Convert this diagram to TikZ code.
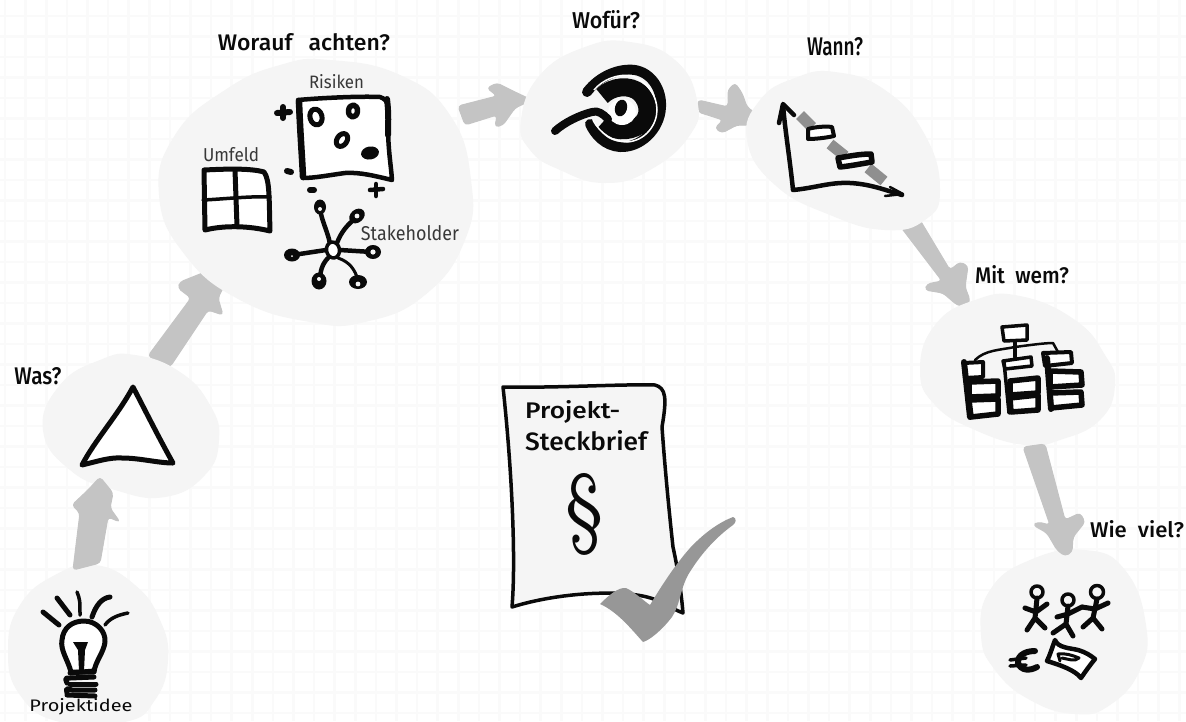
\documentclass[tikz,border=0pt]{standalone}
\usepackage{fontspec}
\setmainfont{Fira Sans}
\definecolor{blobc}{HTML}{F5F5F5}
\definecolor{arrowc}{HTML}{C4C4C4}
\definecolor{checkc}{HTML}{979797}
\definecolor{dashc}{HTML}{8F8F8F}
\definecolor{gridc}{HTML}{FAFAFA}
\definecolor{inkc}{HTML}{0A0A0A}
\newcommand{\headlab}[3]{\resizebox{#1pt}{#2pt}{\fontspec{Fira Sans Medium}#3}}
\newcommand{\thinlab}[3]{\resizebox{#1pt}{#2pt}{#3}}
\tikzset{
  blob/.style={fill=blobc,draw=none},
  grayarrow/.style={fill=arrowc,draw=arrowc,line width=1pt,line join=round,rounded corners=3.5pt},
  ink/.style={draw=inkc,line width=4.5pt,line cap=round,line join=round},
  inkw/.style={ink,fill=white},
  orgbox/.style={inkw,line width=5.5pt},
  txt/.style={inner sep=0pt,text=inkc,anchor=center},
  thintxt/.style={inner sep=0pt,text=black!78,anchor=center},
}
\begin{document}
\begin{tikzpicture}[x=1pt,y=-1pt]
\useasboundingbox (0,0) rectangle (1186,721);
\fill[white] (0,0) rectangle (1186,721);
\foreach \i in {0,...,57} \draw[gridc,line width=2.6pt] ({5+20.6*\i},0) -- ({5+20.6*\i},721);
\foreach \i in {0,...,35} \draw[gridc,line width=2.6pt] (0,{16+20.5*\i}) -- (1186,{16+20.5*\i});

% arrows (below blobs where they touch)
\path[grayarrow] (148,356) -- (191,298) -- (178,288) -- (180,282) -- (205,272) -- (222,269) -- (227,280) -- (218,298) -- (223,315) -- (208,310) -- (170,367) -- cycle;
\path[grayarrow] (458,106) -- (497,96) -- (487,88) -- (497,83) -- (515,92) -- (532,100) -- (515,108) -- (503,125) -- (495,127) -- (497,115) -- (465,125) -- cycle;
\path[grayarrow] (897,222) -- (917,215) -- (950,270) -- (960,262) -- (968,266) -- (965,287) -- (970,300) -- (967,307) -- (957,305) -- (943,293) -- (925,290) -- (927,284) -- (942,281) -- cycle;
\path[grayarrow] (698,100) -- (728,107) -- (728,90) -- (735,83) -- (742,93) -- (747,107) -- (762,118) -- (760,125) -- (737,125) -- (722,133) -- (715,128) -- (723,120) -- (698,112) -- cycle;

% blobs
\path[blob] plot[smooth cycle,tension=0.8] coordinates {(43,430)(60,385)(100,360)(135,355)(180,372)(210,405)(219,440)(205,475)(165,497)(115,490)(70,470)};
\path[blob] plot[smooth cycle,tension=0.8] coordinates {(8,650)(20,605)(55,575)(95,565)(135,585)(160,620)(168,660)(155,700)(125,722)(60,722)(20,695)};
\path[blob] plot[smooth cycle,tension=0.8] coordinates {(159,195)(175,135)(225,90)(280,65)(330,60)(400,75)(450,115)(471,180)(465,240)(425,295)(365,322)(310,322)(240,300)(185,255)};
\path[blob] plot[smooth cycle,tension=0.8] coordinates {(521,120)(540,75)(585,47)(630,42)(675,60)(697,100)(690,135)(650,170)(605,183)(560,170)(530,150)};
\path[blob] plot[smooth cycle,tension=0.8] coordinates {(747,140)(760,100)(795,78)(835,72)(885,90)(925,135)(940,190)(925,220)(885,230)(830,215)(775,185)};
\path[blob] plot[smooth cycle,tension=0.8] coordinates {(920,370)(935,325)(975,300)(1020,296)(1075,320)(1105,355)(1115,385)(1100,420)(1060,440)(1025,445)(975,430)(935,405)};
\path[blob] plot[smooth cycle,tension=0.8] coordinates {(981,635)(990,590)(1030,560)(1085,550)(1125,570)(1146,625)(1140,670)(1110,705)(1075,714)(1030,700)(995,670)};

% arrows on top of blobs
\path[grayarrow] (73,570) -- (77,537) -- (80,513) -- (72,505) -- (88,490) -- (100,477) -- (113,493) -- (110,508) -- (120,522) -- (108,517) -- (100,563) -- cycle;
\path[grayarrow] (1023,447) -- (1045,444) -- (1065,520) -- (1080,513) -- (1085,522) -- (1073,537) -- (1072,552) -- (1065,556) -- (1057,550) -- (1047,533) -- (1033,525) -- (1038,522) -- (1050,525) -- cycle;

% Was: triangle
\path[inkw,line width=5pt] (133,387) .. controls (118,415) and (95,440) .. (82,465) .. controls (95,462) and (110,457) .. (122,458) .. controls (140,458) and (158,463) .. (173,463) .. controls (160,440) and (145,410) .. cycle;

% Bulb
\draw[ink,line width=5pt] (43,612) -- (59,625);
\draw[ink,line width=5pt] (57,598) -- (70,615);
\draw[ink,line width=3.5pt] (77,592) .. controls (80,600) .. (80,615);
\draw[ink,line width=5pt] (92,617) .. controls (96,605) and (102,598) .. (110,597);
\draw[ink,line width=3.5pt] (105,625) .. controls (110,618) and (118,615) .. (128,613);
\path[inkw,line width=5pt] (71,672) .. controls (68,660) and (60,650) .. (62,640) .. controls (63,628) and (72,621) .. (84,621) .. controls (97,621) and (106,632) .. (105,642) .. controls (104,652) and (95,662) .. (94,672) -- cycle;
\fill[inkc] (73,642) -- (88,642) -- (85,650) -- (84,671) -- (79,671) -- (78,650) -- cycle;
\draw[ink,line width=5pt] (70,673) -- (94,671);
\draw[ink,line width=5pt] (67,683) .. controls (65,678) .. (70,678) -- (94,677);
\draw[ink,line width=5pt] (70,684) -- (96,684);
\draw[ink,line width=5pt] (67,693) .. controls (66,688) .. (72,690) -- (95,690);
\draw[ink,line width=5pt] (67,695) -- (95,696);

% Umfeld
\path[inkw,line width=5pt] (204,170) .. controls (225,169) and (250,168) .. (264,172) .. controls (270,180) and (269,200) .. (270,231) .. controls (250,226) and (225,225) .. (205,230) -- cycle;
\draw[ink,line width=5pt] (235,170) -- (237,226);
\draw[ink,line width=3.5pt] (203,200) .. controls (225,199) and (250,196) .. (270,197);

% Risiken
\path[inkw,line width=4.5pt] (298,100) .. controls (320,98) and (360,96) .. (380,97) .. controls (390,100) and (389,110) .. (388,125) .. controls (388,150) and (391,165) .. (392,180) .. controls (375,176) and (360,172) .. (345,173) .. controls (330,175) and (315,178) .. (303,178) -- cycle;
\draw[ink,line width=6.5pt] (299,101) .. controls (300,130) and (302,155) .. (303,177);
\draw[ink,line width=6pt] (387,99) .. controls (389,115) and (388,125) .. (388,135);
\draw[ink,line width=6pt] (283,107) -- (283,118);
\draw[ink,line width=6pt] (277,113) -- (290,112);
\draw[ink,line width=6pt] (287,171) -- (291,172);
\draw[ink,line width=6pt] (310,190) -- (314,190);
\draw[ink,line width=4.5pt] (376,184) -- (376,196);
\draw[ink,line width=4.5pt] (370,190) -- (383,189);
\draw[ink,line width=5pt,rotate around={15:(316,117)}] (316,117) ellipse (6pt and 8pt);
\draw[ink,line width=5.5pt,rotate around={-5:(353,111)}] (353,111) ellipse (4.5pt and 6pt);
\draw[ink,line width=5pt,rotate around={-35:(342,140)}] (342,140) ellipse (5pt and 7pt);
\fill[inkc,rotate around={10:(370,153)}] (370,153) ellipse (9pt and 6.5pt);

% Stakeholder
\draw[ink] (330,244) .. controls (328,232) and (322,222) .. (320,209);
\draw[ink] (337,243) .. controls (341,232) and (348,224) .. (356,218);
\draw[ink] (340,250) -- (372,252);
\draw[ink,line width=3pt] (338,258) .. controls (350,262) and (355,270) .. (358,280);
\draw[ink] (328,258) .. controls (322,264) and (320,272) .. (320,280);
\draw[ink] (326,250) -- (293,255);
\path[inkw,line width=3.5pt,rotate around={10:(333,250)}] (333,250) ellipse (6.5pt and 8pt);
\fill[inkc] (320,207) ellipse (6pt and 7.5pt);
\fill[blobc] (320,209) circle (2pt);
\fill[inkc,rotate around={40:(357,216)}] (357,216) ellipse (8.5pt and 6.5pt);
\fill[blobc] (357,216) circle (2.4pt);
\fill[inkc] (373,252) ellipse (8pt and 7pt);
\fill[blobc] (373,252) circle (2.6pt);
\fill[inkc] (358,282) ellipse (9pt and 7pt);
\fill[blobc] (358,284) circle (2.4pt);
\fill[inkc] (319,281) ellipse (7.5pt and 8.5pt);
\fill[blobc] (319,279) circle (2pt);
\fill[inkc] (292,255) ellipse (8pt and 6.5pt);
\fill[blobc] (292,256) circle (1pt);

% Target
\draw[ink,line width=10pt] (587,92) .. controls (600,75) and (620,68) .. (635,70) .. controls (652,73) and (662,90) .. (661,107) .. controls (660,130) and (640,148) .. (620,147) .. controls (605,146) and (595,135) .. (590,124);
\draw[ink,line width=18pt,line cap=butt] (602,96) .. controls (612,86) and (630,84) .. (640,93) .. controls (650,103) and (650,118) .. (640,125) .. controls (628,133) and (612,132) .. (603,122);
\draw[white,line width=1.5pt] (593,120) .. controls (600,134) and (614,142) .. (627,142) .. controls (645,141) and (657,125) .. (657,110) .. controls (657,96) and (648,82) .. (632,76) .. controls (618,73) and (602,80) .. (594,90);
\fill[white] (622,112) ellipse (14pt and 13pt);
\fill[inkc,rotate around={-15:(621,108)}] (621,108) ellipse (6pt and 8.5pt);
\draw[ink,line width=8pt] (555,131) .. controls (565,122) and (580,115) .. (592,112) .. controls (598,110) and (603,114) .. (608,119);

% Gantt
\draw[dashc,line width=11pt] (800,115) -- (812,127);
\draw[dashc,line width=11pt] (830,144) -- (845,156);
\draw[dashc,line width=11pt] (868,168) -- (884,181);
\draw[ink] (783,105) .. controls (785,130) and (790,160) .. (793,190) .. controls (815,188) and (830,182) .. (850,183) .. controls (870,184) and (885,190) .. (902,195);
\draw[ink] (779,123) -- (783,104) -- (794,115);
\draw[ink,line width=2.5pt] (885,196) -- (903,194) -- (890,187);
\path[inkw,line width=4pt] (808,129) .. controls (815,127) and (825,126) .. (832,127) -- (834,136) .. controls (825,138) and (815,139) .. (808,139) -- cycle;
\path[inkw,line width=5.5pt] (838,158) .. controls (850,156) and (860,154) .. (871,154) -- (872,162) .. controls (860,164) and (850,166) .. (840,167) -- cycle;

% Org chart
\draw[ink,line width=2.5pt] (975,360) .. controls (985,350) and (1000,350) .. (1015,347) .. controls (1030,345) and (1045,343) .. (1053,343) -- (1058,352);
\draw[ink] (1015,340) -- (1015,357);
\path[inkw,line width=3.5pt] (1002,327) -- (1027,325) -- (1027,340) -- (1004,341) -- cycle;
\path[orgbox,line width=4pt] (964,363) -- (983,362) -- (983,377) -- (965,378) -- cycle;
\path[orgbox] (969,382) -- (998,381) -- (998,396) -- (969,397) -- cycle;
\path[orgbox] (969,400) -- (998,399) -- (998,414) -- (971,417) -- cycle;
\draw[ink,line width=6pt] (964,362) -- (970,417);
\path[orgbox,line width=3.5pt] (1003,361) -- (1031,357) -- (1032,366) -- (1005,369) -- cycle;
\path[orgbox] (1010,381) -- (1038,378) -- (1038,393) -- (1010,395) -- cycle;
\path[orgbox] (1010,398) -- (1038,395) -- (1038,410) -- (1011,412) -- cycle;
\draw[ink,line width=3.5pt] (1004,362) -- (1009,413);
\path[orgbox,line width=4pt] (1043,353) -- (1071,352) -- (1072,363) -- (1045,366) -- cycle;
\path[orgbox] (1050,371) -- (1081,372) -- (1082,385) -- (1050,387) -- cycle;
\path[orgbox] (1050,393) -- (1081,392) -- (1082,405) -- (1051,408) -- cycle;
\draw[ink,line width=6pt] (1047,358) -- (1051,409);

% People
\draw[ink,line width=3.5pt] (1037,592) circle (6pt);
\draw[ink,line width=3.5pt] (1068,600) circle (6pt);
\draw[ink,line width=3.5pt] (1097,592) circle (6.5pt);
\draw[ink,line width=5pt] (1037,598) -- (1035,618) (1025,608) -- (1036,612) -- (1047,604) (1027,630) -- (1035,618) -- (1045,628);
\draw[ink,line width=5pt] (1068,606) -- (1066,624) (1057,617) -- (1068,614) -- (1082,607) (1053,633) -- (1066,624) -- (1073,636);
\draw[ink,line width=5pt] (1097,599) -- (1093,618) (1082,607) -- (1095,609) -- (1108,603) (1083,627) -- (1093,618) -- (1102,629);

% Euro + bill
\draw[ink,line width=6pt] (1035,651) .. controls (1022,651) and (1017,658) .. (1018,663) .. controls (1021,671) and (1030,671) .. (1037,667);
\draw[ink,line width=3.5pt] (1010,660) -- (1026,658);
\draw[ink,line width=3.5pt] (1010,666) -- (1026,665);
\path[inkw,line width=4.5pt] (1055,640) .. controls (1058,648) and (1070,648) .. (1078,650) .. controls (1085,652) and (1090,655) .. (1095,659) .. controls (1090,665) and (1085,672) .. (1081,678) .. controls (1075,670) and (1060,665) .. (1047,661) .. controls (1050,655) and (1052,648) .. cycle;
\draw[ink,line width=3pt] (1060,661) -- (1058,654) .. controls (1065,653) and (1072,655) .. (1079,658) .. controls (1075,662) and (1068,659) .. (1062,658);

% Sheet
\path[fill=blobc,draw=inkc,line width=3.5pt,line join=round] (503,387) .. controls (560,388) and (620,384) .. (655,385) .. controls (666,388) and (667,398) .. (662,427) .. controls (665,470) and (670,520) .. (673,547) .. controls (678,570) and (681,590) .. (683,613) .. controls (670,608) and (660,600) .. (647,597) .. controls (620,590) and (560,592) .. (512,607) .. controls (516,560) and (512,470) .. cycle;

% Checkmark
\fill[checkc] (600,604) .. controls (608,596) and (618,587) .. (626,588) .. controls (635,592) and (645,602) .. (650,605) .. controls (662,585) and (675,565) .. (690,548) .. controls (705,532) and (720,522) .. (733,517) .. controls (737,518) and (736,523) .. (733,525) .. controls (715,538) and (700,555) .. (688,575) .. controls (680,590) and (680,605) .. (672,617) .. controls (662,630) and (650,640) .. (643,642) .. controls (632,630) and (618,612) .. cycle;

% Labels
\node[txt] (l1) at (304,42) {\headlab{172}{17}{Worauf\hspace{0.7em}achten?}};
\node[txt] (l2) at (606,20) {\headlab{68}{18}{Wofür?}};
\node[txt] (l3) at (835,47) {\headlab{56}{18}{Wann?}};
\node[txt] (l4) at (38,376) {\headlab{47}{17}{Was?}};
\node[txt] (l5) at (1022,275) {\headlab{94}{18}{Mit\hspace{0.5em}wem?}};
\node[txt] (l6) at (1137,529) {\headlab{94}{17}{Wie\hspace{0.5em}viel?}};
\node[thintxt] (l7) at (336.5,82) {\thinlab{55}{14}{Risiken}};
\node[thintxt] (l8) at (231,155) {\thinlab{56}{14}{Umfeld}};
\node[thintxt] (l9) at (410,233) {\thinlab{98}{15}{Stakeholder}};
\node[txt,anchor=west] (l10) at (525,412) {\headlab{95}{18}{Projekt-}};
\node[txt,anchor=west] (l11) at (525,441) {\headlab{122}{20}{Steckbrief}};
\node[txt] (l12) at (584,514) {\resizebox*{38pt}{82pt}{\fontspec{Latin Modern Roman}§}};
\node[txt] (l13) at (81,707) {\thinlab{103}{13}{Projektidee}};
\end{tikzpicture}
\end{document}
